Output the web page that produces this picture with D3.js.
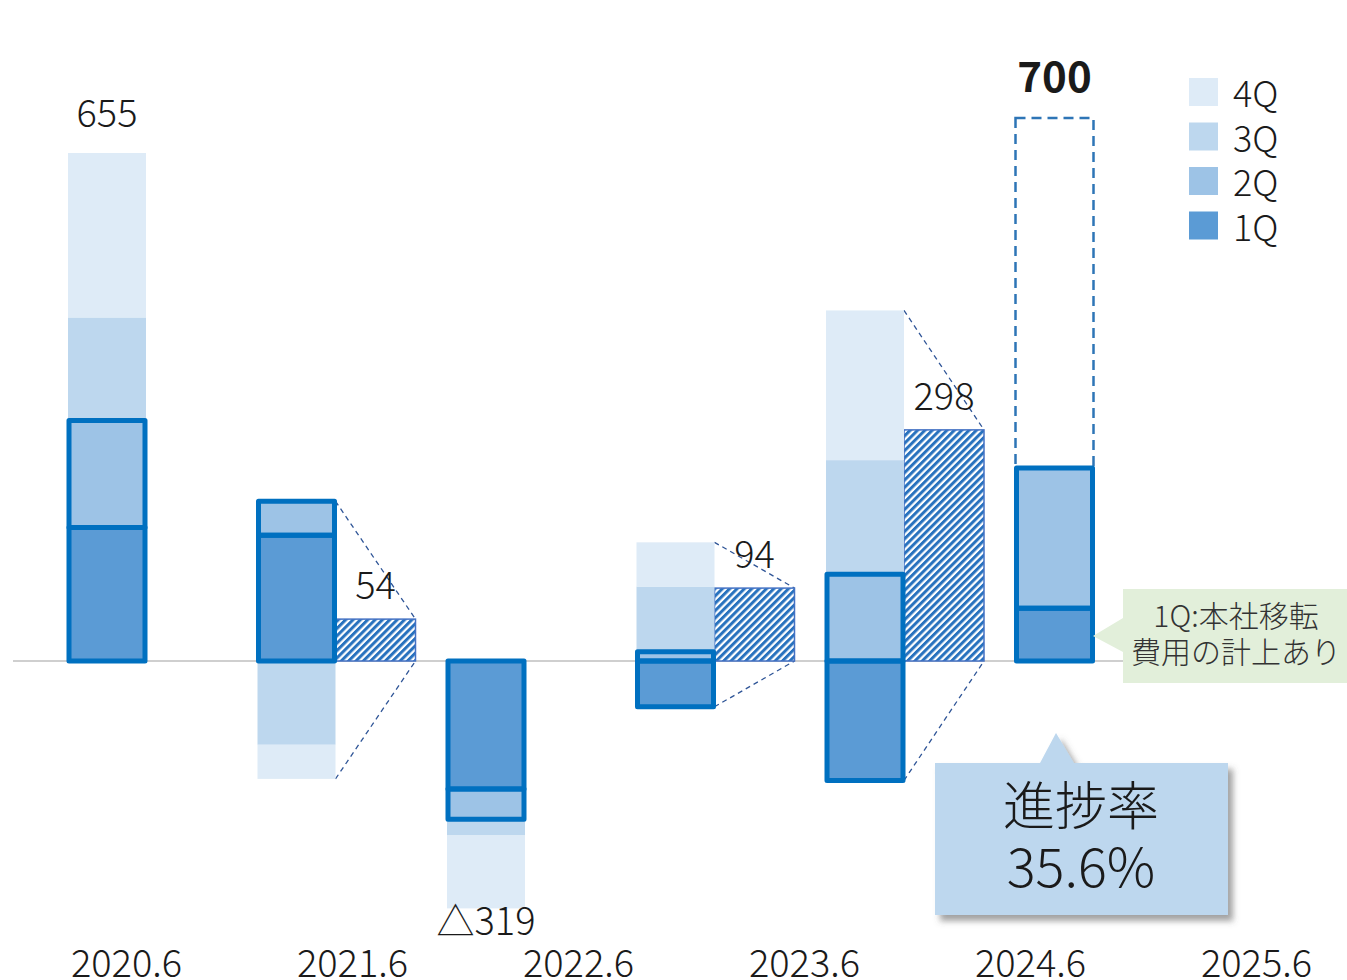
<!DOCTYPE html>
<html>
<head>
<meta charset="utf-8">
<script src="https://cdn.jsdelivr.net/npm/d3@7"></script>
<style>
  body { margin: 0; background: #fff; }
  text { font-family: "Noto Sans CJK JP", "Noto Sans", sans-serif; font-weight: 300; fill: #1a1a1a; }
</style>
</head>
<body>
<div id="chart"></div>
<script>
// quarterly values (1Q..4Q) per fiscal year
const years = ["2020.6", "2021.6", "2022.6", "2023.6", "2024.6", "2025.6"];
const quarters = ["1Q", "2Q", "3Q", "4Q"];
const q1 = [172, 162, -165, -59, -154, 68];
const q2 = [138, 44, -39, 12, 112, 181];
const q3 = [133, -108, -21, 84, 147, null];
const q4 = [212, -44, -94, 57, 193, null];
const target = 700;              // 2025.6 plan
const legendLabels = ["4Q", "3Q", "2Q", "1Q"];
const noteLines = ["1Q:本社移転", "費用の計上あり"];

const W = 1347, H = 980;
const colors = {"1Q": "#5B9BD5", "2Q": "#9DC3E6", "3Q": "#BDD7EE", "4Q": "#DEEBF7"};

const svg = d3.select("#chart")
    .append("svg")
        .attr("width", W)
        .attr("height", H);

const defs = svg.append("defs");
const pat = defs.append("pattern")
    .attr("id", "hatch")
    .attr("patternUnits", "userSpaceOnUse")
    .attr("width", 5.2)
    .attr("height", 5.2)
    .attr("patternTransform", "rotate(45)");
pat.append("rect").attr("width", 5.2).attr("height", 5.2).attr("fill", "#fff");
pat.append("rect").attr("width", 3).attr("height", 5.2).attr("fill", "#2872BE");

const shadow = defs.append("filter").attr("id", "shadow")
    .attr("x", "-10%").attr("y", "-10%").attr("width", "130%").attr("height", "130%");
shadow.append("feDropShadow")
    .attr("dx", 5).attr("dy", 6).attr("stdDeviation", 3)
    .attr("flood-color", "#555").attr("flood-opacity", 0.55);

// scales
const x = d3.scaleBand()
    .domain(years)
    .range([68, 1093.5])
    .paddingInner(1 - 78 / 189.5)
    .paddingOuter(0);
const bw = x.bandwidth();
const y = d3.scaleLinear()
    .domain([0, 655])
    .range([661, 153]);
const xLabel = d3.scalePoint()
    .domain(years)
    .range([126, 1256]);

// build stacked segments
const data = years.map((yr, i) => {
    const vals = [q1[i], q2[i], q3[i], q4[i]];
    let pos = 0, neg = 0;
    const segs = [];
    vals.forEach((v, k) => {
        if (v == null) return;
        let a, b;
        if (v >= 0) { a = pos; b = pos + v; pos = b; }
        else { a = neg; b = neg + v; neg = b; }
        segs.push({q: quarters[k], y0: a, y1: b});
    });
    const present = vals.filter(v => v != null);
    const total = d3.sum(present);
    const mixed = present.some(v => v > 0) && present.some(v => v < 0);
    return {year: yr, segs, pos, neg, total, mixed, full: present.length === 4};
});

// baseline
svg.append("line")
    .attr("x1", 13).attr("x2", 1125)
    .attr("y1", y(0)).attr("y2", y(0))
    .attr("stroke", "#BFBFBF")
    .attr("stroke-width", 1.5);

// target box for current year
const cur = data[data.length - 1];
svg.append("rect")
    .attr("x", x(cur.year))
    .attr("y", y(target))
    .attr("width", bw)
    .attr("height", y(0) - y(target))
    .attr("fill", "none")
    .attr("stroke", "#2E75B6")
    .attr("stroke-width", 2.5)
    .attr("stroke-dasharray", "10,6");
svg.append("text")
    .attr("x", x(cur.year) + bw / 2)
    .attr("y", y(target) - 26)
    .attr("text-anchor", "middle")
    .style("font-size", "42px")
    .style("font-weight", "bold")
    .text(target);

// hatched full-year bars + connectors
const mixedYears = data.filter(d => d.mixed && d.full);
mixedYears.forEach(d => {
    const bx = x(d.year) + bw;
    svg.append("line")
        .attr("x1", bx).attr("y1", y(d.pos))
        .attr("x2", bx + bw + 2).attr("y2", y(Math.max(d.total, 0)))
        .attr("stroke", "#2F5597").attr("stroke-width", 1.3).attr("stroke-dasharray", "5,4");
    svg.append("line")
        .attr("x1", bx).attr("y1", y(d.neg))
        .attr("x2", bx + bw + 2).attr("y2", y(Math.min(d.total, 0)))
        .attr("stroke", "#2F5597").attr("stroke-width", 1.3).attr("stroke-dasharray", "5,4");
    svg.append("rect")
        .attr("x", bx)
        .attr("y", y(Math.max(d.total, 0)))
        .attr("width", bw + 2)
        .attr("height", Math.abs(y(d.total) - y(0)))
        .attr("fill", "url(#hatch)")
        .attr("stroke", "#4472C4")
        .attr("stroke-width", 1.5);
    svg.append("text")
        .attr("x", bx + bw / 2 + 1)
        .attr("y", y(d.total) - 20)
        .attr("text-anchor", "middle")
        .style("font-size", "38px")
        .text(d.total);
});

// quarter segments
const segs = data.flatMap(d => d.segs.map(s => ({...s, year: d.year})));
svg.append("g").selectAll("rect")
    .data(segs)
    .enter()
    .append("rect")
        .attr("x", d => x(d.year))
        .attr("y", d => y(Math.max(d.y0, d.y1)))
        .attr("width", bw)
        .attr("height", d => Math.abs(y(d.y0) - y(d.y1)))
        .attr("fill", d => colors[d.q]);

// first half outline (1Q and 2Q)
svg.append("g").selectAll("rect")
    .data(segs.filter(s => s.q === "1Q" || s.q === "2Q"))
    .enter()
    .append("rect")
        .attr("x", d => x(d.year) + 1)
        .attr("y", d => y(Math.max(d.y0, d.y1)))
        .attr("width", bw - 2)
        .attr("height", d => Math.abs(y(d.y0) - y(d.y1)))
        .attr("fill", "none")
        .attr("stroke", "#0070C0")
        .attr("stroke-width", 5)
        .attr("stroke-linejoin", "round");

// totals for single-sign full years
data.filter(d => d.full && !d.mixed).forEach(d => {
    svg.append("text")
        .attr("x", x(d.year) + bw / 2)
        .attr("y", d.total >= 0 ? y(d.total) - 26 : y(d.total) + 27)
        .attr("text-anchor", "middle")
        .style("font-size", "38px")
        .text(d.total >= 0 ? d.total : "△" + Math.abs(d.total));
});

// x axis labels
const xAxis = svg.append("g")
    .attr("transform", "translate(0, 950)")
    .call(d3.axisBottom(xLabel).tickSize(0).tickPadding(0));
xAxis.select(".domain").remove();
xAxis.selectAll("text")
    .attr("dy", "0.72em")
    .style("font-size", "38px")
    .style("font-family", "'Noto Sans CJK JP', sans-serif")
    .style("font-weight", 300)
    .attr("fill", "#1a1a1a");

// legend
const leg = svg.append("g").attr("transform", "translate(1189, 78)");
legendLabels.forEach((q, i) => {
    const g = leg.append("g").attr("transform", `translate(0, ${i * 44.5})`);
    g.append("rect").attr("width", 29).attr("height", 28).attr("fill", colors[q]);
    g.append("text")
        .attr("x", 44)
        .attr("y", 29)
        .style("font-size", "36px")
        .text(q);
});

// note callout (green)
const nb = {x0: 1123, y0: 589, x1: 1347, y1: 683};
svg.append("path")
    .attr("d", `M${nb.x0},${nb.y0} H${nb.x1} V${nb.y1} H${nb.x0} V652 L1093,636 L${nb.x0},618 Z`)
    .attr("fill", "#E2EFDA");
noteLines.forEach((t, i) => {
    svg.append("text")
        .attr("x", 1236)
        .attr("y", 627 + i * 36)
        .attr("text-anchor", "middle")
        .style("font-size", "30px")
        .style("fill", "#333")
        .text(t);
});

// progress callout (blue)
const rate = (d3.sum(cur.segs, s => s.y1 - s.y0) / target * 100).toFixed(1) + "%";
const pb = {x0: 935, y0: 763, x1: 1228, y1: 915};
svg.append("path")
    .attr("d", `M${pb.x0},${pb.y0} H1040 L1056,733 L1074,${pb.y0} H${pb.x1} V${pb.y1} H${pb.x0} Z`)
    .attr("fill", "#BDD7EE")
    .attr("filter", "url(#shadow)");
svg.append("text")
    .attr("x", 1081).attr("y", 825)
    .attr("text-anchor", "middle")
    .style("font-size", "52px")
    .text("進捗率");
svg.append("text")
    .attr("x", 1081).attr("y", 887)
    .attr("text-anchor", "middle")
    .style("font-size", "54px")
    .text(rate);
</script>
</body>
</html>
